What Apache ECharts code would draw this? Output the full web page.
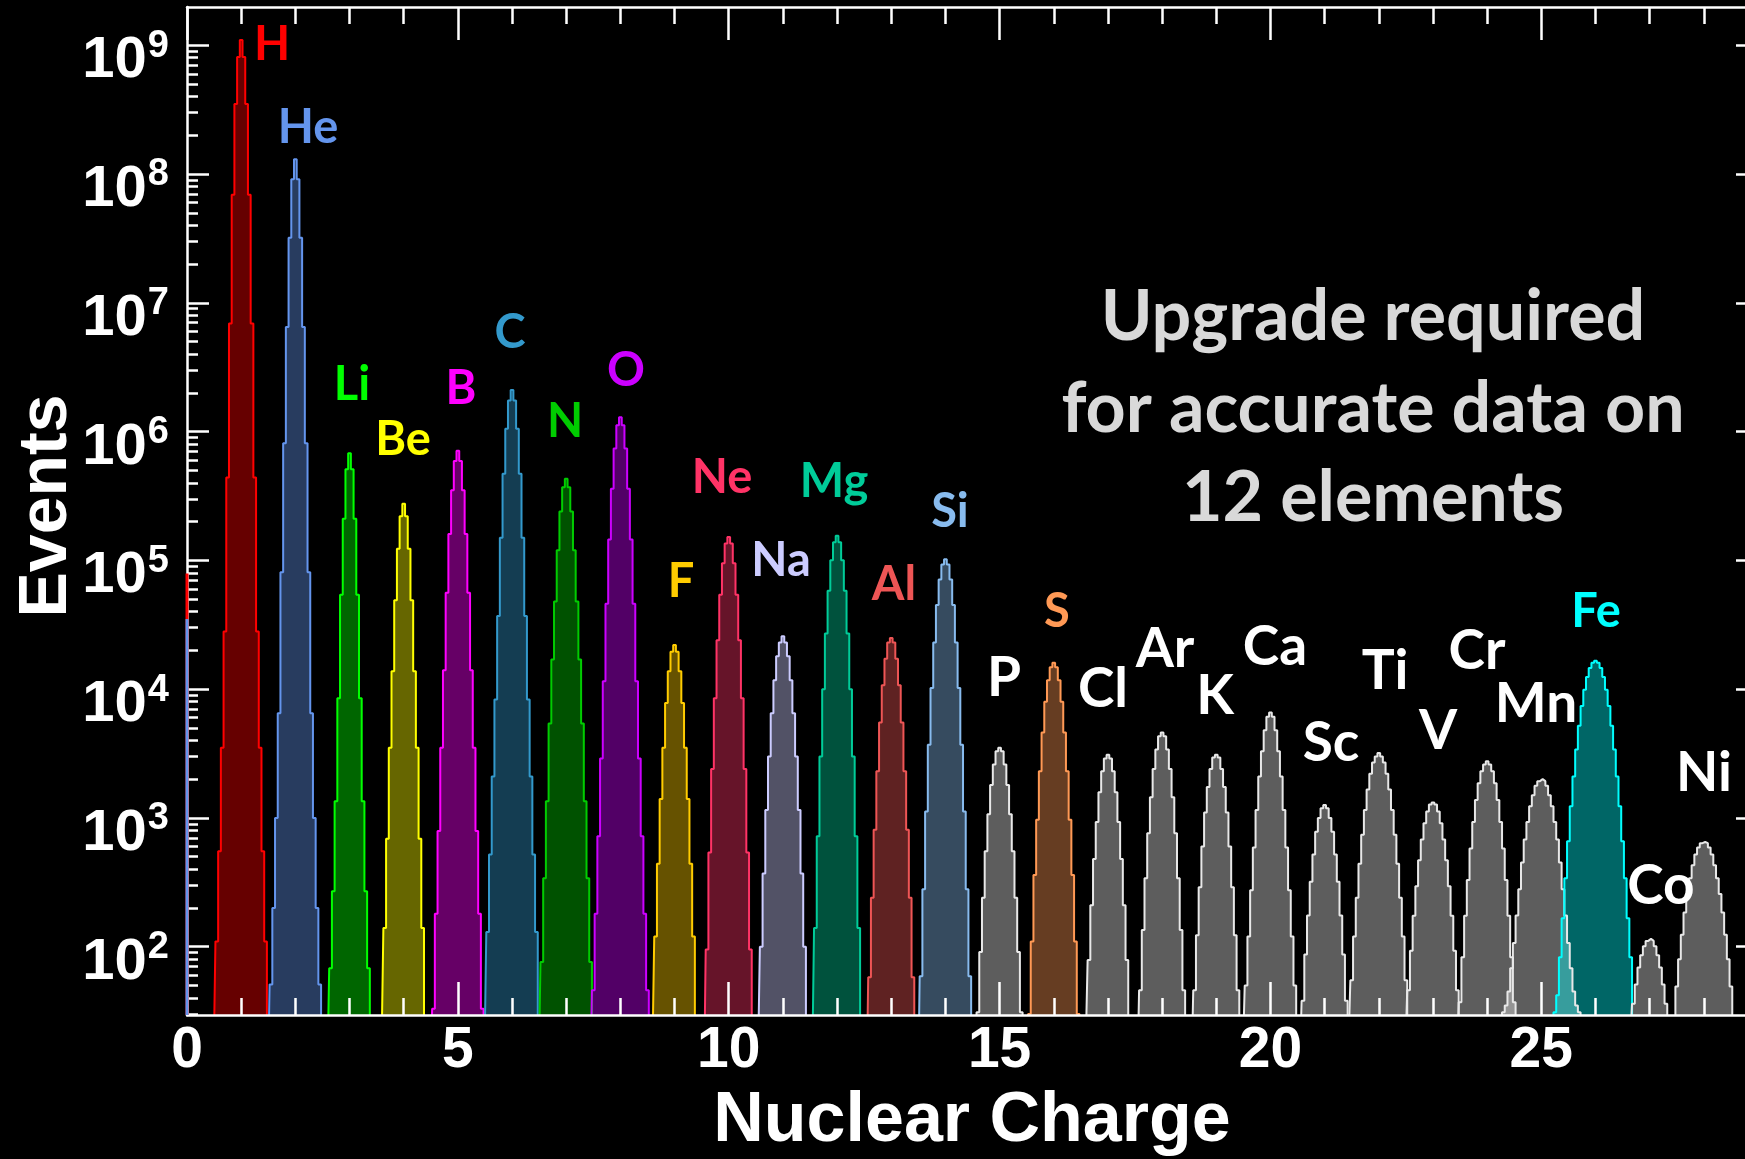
<!DOCTYPE html>
<html>
<head>
<meta charset="utf-8">
<title>Nuclear Charge</title>
<script src="https://cdn.jsdelivr.net/npm/echarts@6/dist/echarts.min.js"></script>
<style>
  html, body { margin: 0; padding: 0; background: #000; }
  #chart { width: 1745px; height: 1159px; }
</style>
</head>
<body>
<div id="chart"></div>
<script>
// ---- data -------------------------------------------------------------
// element symbols and nuclear charge of each histogram peak
const elements = ['H','He','Li','Be','B','C','N','O','F','Ne','Na','Mg','Al','Si',
                  'P','S','Cl','Ar','K','Ca','Sc','Ti','V','Cr','Mn','Fe','Co','Ni'];
const charges = [1,2,3,4,5,6,7,8,9,10,11,12,13,14,15,16,17,18,19,20,21,22,23,24,25,26,27,28];

// histogram bin width in charge units; each count array is centred on its charge
const binWidth = 0.05;

const countsH  = [22,110,550,3500,28000,4.4e5,6.9e6,6.9e7,3.5e8,8.1e8,1.1e9,8.1e8,3.5e8,6.9e7,6.9e6,4.4e5,28000,3500,550,110,22];
const countsHe = [13,51,200,1000,6500,8.1e4,8.1e5,6.5e6,3.2e7,9.1e7,1.3e8,9.1e7,3.2e7,6.5e6,8.1e5,8.1e4,6500,1000,200,51,13];
const countsLi = [17,68,270,1350,8500,5.4e4,2.1e5,5.1e5,6.8e5,5.1e5,2.1e5,5.4e4,8500,1350,270,68,17];
const countsBe = [28,140,690,3500,13800,4.9e4,1.23e5,2.2e5,2.75e5,2.2e5,1.23e5,4.9e4,13800,3500,690,140,28];
const countsB  = [9,33,180,790,3500,14000,5.6e4,1.6e5,3.5e5,5.9e5,7.1e5,5.9e5,3.5e5,1.6e5,5.6e4,14000,3500,790,180,33,9];
const countsC  = [25,130,520,2100,8300,3.7e4,1.5e5,4.7e5,1.05e6,1.74e6,2.1e6,1.74e6,1.05e6,4.7e5,1.5e5,3.7e4,8300,2100,520,130,25];
const countsN  = [17,76,340,1350,5400,1.7e4,4.8e4,1.2e5,2.4e5,3.7e5,4.3e5,3.7e5,2.4e5,1.2e5,4.8e4,1.7e4,5400,1350,340,76,17];
const countsO  = [11,46,180,720,2900,1.15e4,4.6e4,1.45e5,3.6e5,7.4e5,1.12e6,1.29e6,1.12e6,7.4e5,3.6e5,1.45e5,4.6e4,1.15e4,2900,720,180,46,11];
const countsF  = [25,120,440,1400,3500,7800,1.38e4,1.95e4,2.2e4,1.95e4,1.38e4,7800,3500,1400,440,120,25];
const countsNe = [13,95,540,2400,8500,2.4e4,5.4e4,9.5e4,1.35e5,1.52e5,1.35e5,9.5e4,5.4e4,2.4e4,8500,2400,540,95,13];
const countsNa = [23,100,370,1150,3000,6500,1.17e4,1.8e4,2.3e4,2.57e4,2.3e4,1.8e4,1.17e4,6500,3000,1150,370,100,23];
const countsMg = [22,140,720,3000,1.0e4,2.7e4,5.8e4,1.0e5,1.38e5,1.55e5,1.38e5,1.0e5,5.8e4,2.7e4,1.0e4,3000,720,140,22];
const countsAl = [11,58,240,810,2300,5500,1.07e4,1.72e4,2.3e4,2.5e4,2.3e4,1.72e4,1.07e4,5500,2300,810,240,58,11];
const countsSi = [10,59,280,1120,3700,1.02e4,2.3e4,4.5e4,7.1e4,9.3e4,1.02e5,9.3e4,7.1e4,4.5e4,2.3e4,1.02e4,3700,1120,280,59,10];
const countsP  = [8,31,91,240,550,1070,1800,2600,3300,3500,3300,2600,1800,1070,550,240,91,31,8];
const countsS  = [7,30,110,360,970,2300,4600,8000,1.17e4,1.48e4,1.6e4,1.48e4,1.17e4,8000,4600,2300,970,360,110,30,7];
const countsCl = [26,79,210,480,930,1580,2300,2900,3100,2900,2300,1580,930,480,210,79,26];
const countsAr = [13,46,135,340,760,1450,2400,3400,4300,4600,4300,3400,2400,1450,760,340,135,46,13];
const countsK  = [15,46,123,290,600,1100,1740,2400,2950,3100,2950,2400,1740,1100,600,290,123,46,15];
const countsCa = [20,50,120,275,590,1150,2100,3300,4800,6100,6600,6100,4800,3300,2100,1150,590,275,120,50,20];
const countsSc = [15,38,87,175,320,520,780,1000,1190,1260,1190,1000,780,520,320,175,87,38,15];
const countsTi = [23,55,120,240,440,740,1150,1660,2200,2700,3000,3200,3000,2700,2200,1660,1150,740,440,240,120,55,23];
const countsV  = [21,46,93,174,295,470,680,910,1120,1270,1320,1270,1120,910,680,470,295,174,93,46,21];
const countsCr = [15,37,83,174,330,580,930,1380,1860,2300,2600,2750,2600,2300,1860,1380,930,580,330,174,83,37,15];
const countsMn = [20,31,35,45,68,107,175,280,450,680,930,1230,1500,1780,1930,2000,1930,1780,1500,1230,930,680,450,280,175,107,68,45,35,31,20];
const countsFe = [13,31,42,83,166,340,660,1230,2100,3400,5200,7400,9900,12400,14600,16000,16600,16000,14600,12400,9900,7400,5200,3400,2100,1230,660,340,166,83,28,13,8];
const countsCo = [23,36,51,69,86,101,111,115,111,101,86,69,51,36,23];
const countsNi = [16,28.5,49,80,124,184,257,340,430,520,590,637,650,637,590,520,430,340,257,184,124,80,49,28.5,16];

const countSeries = [countsH,countsHe,countsLi,countsBe,countsB,countsC,countsN,countsO,countsF,countsNe,
  countsNa,countsMg,countsAl,countsSi,countsP,countsS,countsCl,countsAr,countsK,countsCa,
  countsSc,countsTi,countsV,countsCr,countsMn,countsFe,countsCo,countsNi];

// counts piled up at the left edge (charge 0) for H and He
const zeroEdgeCounts = [7.9e4, 3.5e4];

// axis ranges and ticks
const xMin = 0, xMax = 29;
const yMin = 29.5, yMax = 1.98e9;
const yMajorTicks = [1e2,1e3,1e4,1e5,1e6,1e7,1e8,1e9];
const yMajorExponents = ['2','3','4','5','6','7','8','9'];
const upgradeLines = ['Upgrade required', 'for accurate data on', '12 elements'];

// ---- styles -----------------------------------------------------------
const GRAY = '#ffffff';
const peakColors = ['#ff0000','#6495ed','#00ff00','#ffff00','#ff00ff','#3399cc','#00cc00','#cc00ff','#ffcc00','#ff3366',
  '#ccccff','#00cc99','#ee5555','#88bbee',GRAY,'#ff9955',GRAY,GRAY,GRAY,GRAY,
  GRAY,GRAY,GRAY,GRAY,GRAY,'#00ffff',GRAY,GRAY];
const lineColors = peakColors.map(c => c === GRAY ? '#e8e8e8' : c);

// element label placement (pixel centres)
const labelPos = [
  [272,45],[308,128],[352,385],[403,440],[461,389],[510,333],[565,422],[626,371],[681,582],[722,478],
  [781,561],[834,482],[894,585],[950,512],[1004,678],[1057,612],[1103,689],[1165,649],[1215,696],[1275,647],
  [1331,743],[1385,671],[1438,731],[1477,651],[1536,704],[1596,612],[1661,886],[1704,773]
];

// minor log ticks (2..9 x 10^k) inside the visible range
const yMinorTicks = [];
for (let k = 1; k <= 9; k++) {
  for (let m = 2; m <= 9; m++) {
    const v = m * Math.pow(10, k);
    if (v >= yMin && v <= yMax) yMinorTicks.push(v);
  }
}

const WHITE = '#ffffff';
const tickStyle = { color: WHITE, width: 2.5 };
const axisFont = 'Liberation Sans';

function xAxisDef(position, interval, len, withLine, withLabel) {
  return {
    type: 'value', min: xMin, max: xMax, interval: interval, position: position, z: 10,
    axisLine: { show: withLine, onZero: false, lineStyle: tickStyle },
    axisTick: { show: true, inside: true, length: len, lineStyle: tickStyle },
    axisLabel: withLabel ? {
      show: true, color: WHITE, fontFamily: axisFont, fontWeight: 'bold', fontSize: 57, margin: 8,
      formatter: v => (v % 5 === 0 ? String(v) : '')
    } : { show: false },
    splitLine: { show: false }
  };
}

function yAxisDef(position, ticks, len, withLine, withLabel) {
  return {
    type: 'log', min: yMin, max: yMax, position: position, z: 10,
    axisLine: { show: withLine, onZero: false, lineStyle: tickStyle },
    axisTick: { show: true, inside: true, length: len, customValues: ticks, lineStyle: tickStyle },
    axisLabel: withLabel ? {
      show: true, customValues: ticks, margin: 18,
      color: WHITE, fontFamily: axisFont, fontWeight: 'bold', fontSize: 57,
      formatter: v => {
        const i = yMajorTicks.findIndex(t => Math.abs(Math.log10(t) - Math.log10(v)) < 1e-6);
        return '{b|10}{s|' + (i >= 0 ? yMajorExponents[i] : '') + '}';
      },
      rich: {
        b: { color: WHITE, fontFamily: axisFont, fontWeight: 'bold', fontSize: 58, lineHeight: 58,
             padding: [16, 0, 0, 0], verticalAlign: 'top' },
        s: { color: WHITE, fontFamily: axisFont, fontWeight: 'bold', fontSize: 38, lineHeight: 38,
             padding: [11, 0, 0, 1], verticalAlign: 'top' }
      }
    } : { show: false },
    splitLine: { show: false },
    minorTick: { show: false }
  };
}

// ---- series -----------------------------------------------------------
const series = elements.map((el, i) => {
  const arr = countSeries[i];
  const mid = (arr.length - 1) / 2;
  return {
    type: 'line', name: el, xAxisIndex: 0, yAxisIndex: 0,
    step: 'middle', symbol: 'none', silent: true, z: 2,
    data: arr.map((v, j) => [charges[i] + (j - mid) * binWidth, v]),
    lineStyle: { color: lineColors[i], width: 2 },
    areaStyle: { color: lineColors[i], opacity: 0.4 }
  };
});

zeroEdgeCounts.forEach((v, i) => {
  series.push({
    type: 'line', name: elements[i] + ' edge', xAxisIndex: 0, yAxisIndex: 0,
    symbol: 'none', silent: true, clip: false, z: 12,
    data: [[xMin, yMin], [xMin, v]],
    lineStyle: { color: lineColors[i], width: 3 }
  });
});

// ---- text -------------------------------------------------------------
const graphics = [];
elements.forEach((el, i) => {
  const gray = peakColors[i] === GRAY;
  graphics.push({
    type: 'text', x: labelPos[i][0], y: labelPos[i][1], z: 20, silent: true,
    style: {
      text: el, fill: peakColors[i],
      font: 'bold ' + (gray ? 55 : 47) + 'px Lato',
      align: 'center', verticalAlign: 'middle', textAlign: 'center', textVerticalAlign: 'middle'
    }
  });
});
const upgradeY = [317, 409, 498];
upgradeLines.forEach((t, i) => {
  graphics.push({
    type: 'text', x: 1373, y: upgradeY[i], z: 20, silent: true,
    style: { text: t, fill: '#d9d9d9', font: 'bold 70px Lato',
      align: 'center', verticalAlign: 'middle', textAlign: 'center', textVerticalAlign: 'middle' }
  });
});
graphics.push({
  type: 'text', x: 972, y: 1122, z: 20, silent: true,
  style: { text: 'Nuclear Charge', fill: WHITE, font: 'bold 70px "Liberation Sans"',
    align: 'center', verticalAlign: 'middle', textAlign: 'center', textVerticalAlign: 'middle' }
});
graphics.push({
  type: 'text', x: 47, y: 506, rotation: Math.PI / 2, z: 20, silent: true,
  style: { text: 'Events', fill: WHITE, font: 'bold 68px "Liberation Sans"',
    align: 'center', verticalAlign: 'middle', textAlign: 'center', textVerticalAlign: 'middle' }
});

// ---- chart ------------------------------------------------------------
const chart = echarts.init(document.getElementById('chart'), null, { renderer: 'canvas' });
chart.setOption({
  backgroundColor: '#000000',
  animation: false,
  grid: { left: 187, top: 7, right: -13, bottom: 144, containLabel: false, outerBoundsMode: 'none' },
  xAxis: [
    xAxisDef('bottom', 5, 33, true, true),
    xAxisDef('bottom', 1, 17, false, false),
    xAxisDef('top', 5, 33, true, false),
    xAxisDef('top', 1, 17, false, false)
  ],
  yAxis: [
    yAxisDef('left', yMajorTicks, 22, true, true),
    yAxisDef('left', yMinorTicks, 11, false, false),
    yAxisDef('right', yMajorTicks, 22, true, false),
    yAxisDef('right', yMinorTicks, 11, false, false)
  ],
  series: series,
  graphic: graphics
});
</script>
</body>
</html>
